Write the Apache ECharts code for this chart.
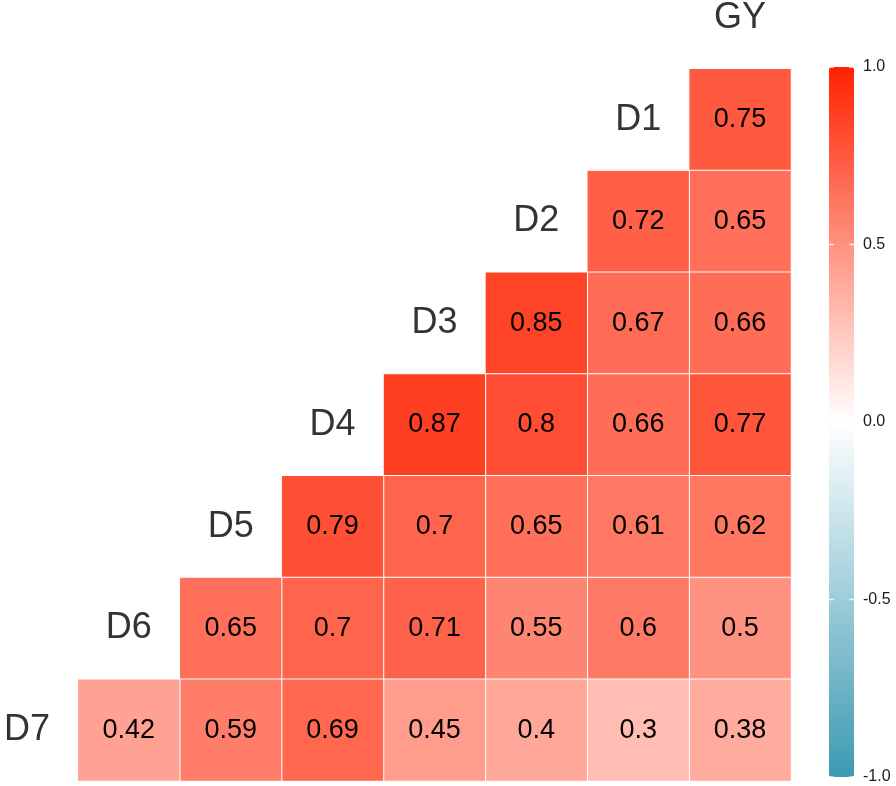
<!DOCTYPE html>
<html>
<head>
<meta charset="utf-8">
<script src="https://cdn.jsdelivr.net/npm/echarts@6/dist/echarts.min.js"></script>
<style>
  html, body { margin: 0; padding: 0; background: #fff; }
  #main { width: 896px; height: 786px; }
</style>
</head>
<body>
<div id="main"></div>
<script>
// variables, top to bottom on the diagonal
let vars = ["GY", "D1", "D2", "D3", "D4", "D5", "D6", "D7"];
// lower triangle: row i holds cor(vars[i], vars[0..i-1])
let rowD1 = [0.75];
let rowD2 = [0.65, 0.72];
let rowD3 = [0.66, 0.67, 0.85];
let rowD4 = [0.77, 0.66, 0.8, 0.87];
let rowD5 = [0.62, 0.61, 0.65, 0.7, 0.79];
let rowD6 = [0.5, 0.6, 0.55, 0.71, 0.7, 0.65];
let rowD7 = [0.38, 0.3, 0.4, 0.45, 0.69, 0.59, 0.42];
let colorbarTicks = [-1, -0.5, 0, 0.5, 1];

let rows = [[], rowD1, rowD2, rowD3, rowD4, rowD5, rowD6, rowD7];
// x runs D7 ... GY so the diagonal goes from bottom-left to top-right
let xCats = vars.slice().reverse();
let yCats = vars.slice();

let cells = [];
rows.forEach(function (r, i) {
  r.forEach(function (v, j) {
    cells.push([vars[j], vars[i], v]);
  });
});
let diag = vars.map(function (v) { return [v, v]; });

// little white notches on both edges of the colour bar
let notches = [];
colorbarTicks.forEach(function (t) {
  notches.push([0, t]);
  notches.push([1, t]);
});

let font = "'Liberation Sans', Arial, sans-serif";
let chart = echarts.init(document.getElementById("main"));
let option = {
  backgroundColor: "#fff",
  animation: false,
  grid: [
    // the label row/column sit partly outside the canvas
    { left: -24, top: -33, width: 815, height: 814, outerBoundsMode: "none" },
    // colorbar ticks/labels
    { left: 829, top: 67, width: 25, height: 710, outerBoundsMode: "none" }
  ],
  xAxis: [
    { type: "category", data: xCats, show: false, gridIndex: 0 },
    { type: "value", show: false, gridIndex: 1, min: 0, max: 1 }
  ],
  yAxis: [
    { type: "category", data: yCats, inverse: true, show: false, gridIndex: 0 },
    {
      type: "value", gridIndex: 1, position: "right",
      min: -1, max: 1, interval: 0.5,
      axisLine: { show: false },
      axisTick: { show: false },
      axisLabel: {
        margin: 9, fontSize: 16, color: "#1a1a1a", fontFamily: font,
        formatter: function (v) {
          return colorbarTicks.indexOf(v) >= 0 ? v.toFixed(1) : "";
        }
      },
      splitLine: { show: false }
    }
  ],
  visualMap: {
    type: "continuous",
    min: -1,
    max: 1,
    dimension: 2,
    seriesIndex: 0,
    calculable: false,
    hoverLink: false,
    orient: "vertical",
    left: 829,
    top: 67,
    padding: 0,
    itemWidth: 25,
    itemHeight: 710,
    inRange: { color: ["#3B9AB2", "#FFFFFF", "#FF2200"] }
  },
  series: [
    {
      type: "heatmap",
      xAxisIndex: 0,
      yAxisIndex: 0,
      data: cells,
      itemStyle: { borderColor: "#fff", borderWidth: 1 },
      label: {
        show: true,
        fontSize: 27,
        color: "#000",
        fontFamily: font,
        formatter: function (p) { return String(p.value[2]); }
      },
      emphasis: { disabled: true }
    },
    {
      type: "scatter",
      xAxisIndex: 0,
      yAxisIndex: 0,
      data: diag,
      symbolSize: 0,
      label: {
        show: true,
        position: "inside",
        fontSize: 36,
        color: "#000",
        fontFamily: font,
        formatter: function (p) { return p.value[1]; }
      }
    },
    {
      type: "scatter",
      xAxisIndex: 1,
      yAxisIndex: 1,
      data: notches,
      z: 20,
      clip: false,
      symbol: "rect",
      symbolSize: [10, 1.5],
      itemStyle: { color: "#fff" },
      silent: true
    }
  ]
};
chart.setOption(option);
</script>
</body>
</html>
